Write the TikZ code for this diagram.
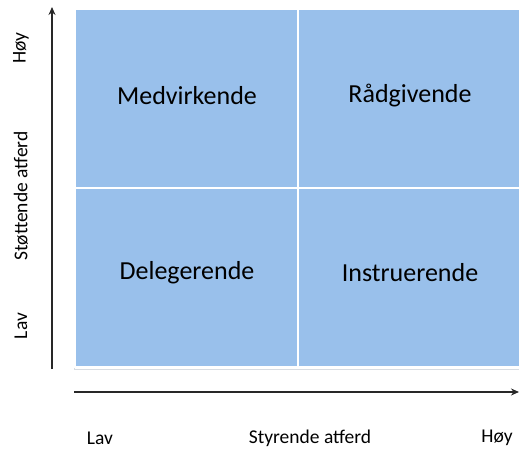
\documentclass[tikz,border=0pt]{standalone}
\usepackage{fontspec}
\setmainfont{Carlito}
\usetikzlibrary{arrows.meta}
\definecolor{cellblue}{RGB}{153,192,235}
\definecolor{axisgray}{RGB}{40,40,40}
\definecolor{framegray}{RGB}{215,220,226}
\begin{document}
\begin{tikzpicture}[x=1pt,y=1pt,
  cell/.style={fill=cellblue,draw=white,line width=2pt},
  quadlabel/.style={font=\fontsize{26}{30}\selectfont,text=black},
  axislabel/.style={font=\fontsize{19.5}{23}\selectfont,text=black},
  axis/.style={draw=axisgray,line width=1.8pt,-{Stealth[length=8pt,width=7pt]}}]
\useasboundingbox (0,0) rectangle (519,448);
% outer frame of the grid
\draw[framegray,line width=1pt] (74,79) rectangle (525,439);
% the four quadrants
\path[cell] (75,81) rectangle (298,260);
\path[cell] (298,81) rectangle (526,260);
\path[cell] (75,260) rectangle (298,439);
\path[cell] (298,260) rectangle (526,439);
\node[quadlabel] (med) at (187,352) {Medvirkende};
\node[quadlabel] (rad) at (410,352) {Rådgivende};
\node[quadlabel] (del) at (187,175) {Delegerende};
\node[quadlabel] (ins) at (410,175) {Instruerende};
% axes
\coordinate (yb) at (52,79);
\coordinate (yt) at (52,441);
\coordinate (xl) at (74,56);
\coordinate (xr) at (519,56);
\draw[axis] (yb) -- (yt);
\draw[axis] (xl) -- (xr);
% axis labels
\node[axislabel] (xlav) at (100,10) {Lav};
\node[axislabel] (xname) at (310,10) {Styrende atferd};
\node[axislabel] (xhoy) at (497,10) {Høy};
\node[axislabel,rotate=90] (yhoy) at (21,400) {Høy};
\node[axislabel,rotate=90] (yname) at (21,252) {Støttende atferd};
\node[axislabel,rotate=90] (ylav) at (21,122) {Lav};
\end{tikzpicture}
\end{document}
